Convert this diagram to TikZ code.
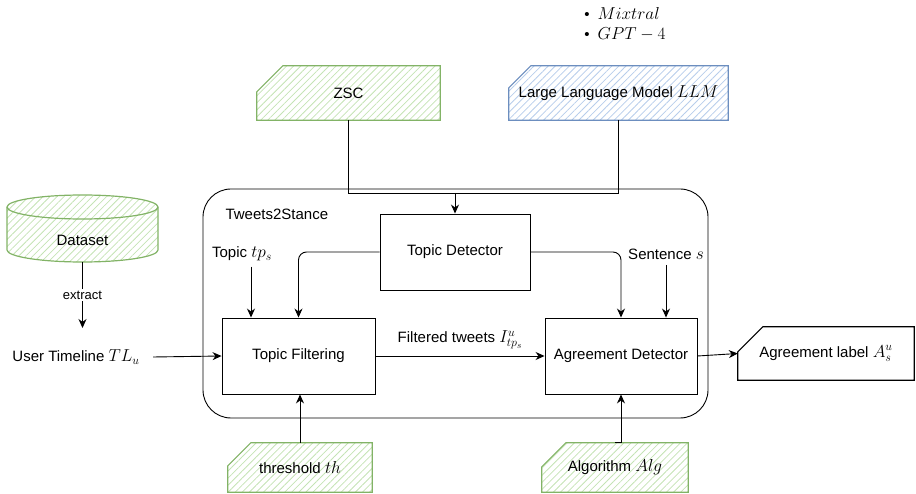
\documentclass[tikz,border=0pt]{standalone}
\usepackage{fontspec}
\setmainfont{Liberation Sans}
\usetikzlibrary{arrows.meta}
\usetikzlibrary{patterns.meta}
\usetikzlibrary{backgrounds}

\definecolor{zscline}{HTML}{82B366}
\definecolor{zschatch}{HTML}{C4E3B4}
\definecolor{llmline}{HTML}{6C8EBF}
\definecolor{llmhatch}{HTML}{B7CDEB}

\newcommand{\mth}[1]{{\fontsize{18}{20}\selectfont$#1$}}
\newcommand{\cardbg}[3]{%
\begin{scope}[on background layer]
\draw[#3] (#1.south west) -- ([yshift=-#2]#1.north west) -- ([xshift=#2]#1.north west) -- (#1.north east) -- (#1.south east) -- cycle;
\end{scope}}

\tikzset{
box/.style={draw, line width=0.9pt, minimum width=152pt, minimum height=76pt},
greencard/.style={draw=zscline, line width=1.2pt, pattern={Lines[angle=45,distance=5pt,line width=0.8pt]}, pattern color=zschatch},
bluecard/.style={draw=llmline, line width=1.2pt, pattern={Lines[angle=45,distance=5pt,line width=0.8pt]}, pattern color=llmhatch},
plaincard/.style={draw=black, fill=white, line width=1.2pt},
flow/.style={-{Stealth[length=9pt,width=8pt]}, line width=0.9pt},
}

\begin{document}
\begin{tikzpicture}[x=1pt,y=-1pt,font=\fontsize{15}{18}\selectfont]
\useasboundingbox (0,0) rectangle (916,494);

\node[align=left] (models) at (625,24) {\textbullet\hspace{8pt}\mth{Mixtral}\\[2pt]\textbullet\hspace{8pt}\mth{GPT-4}};

\node[minimum width=183pt, minimum height=54pt] (zsc) at (348.5,93) {ZSC};
\cardbg{zsc}{26pt}{greencard}
\node[minimum width=219pt, minimum height=54pt] (llm) at (618.5,93) {Large Language Model \mth{LLM}};
\cardbg{llm}{22pt}{bluecard}

\node[draw, rounded corners=28pt, line width=0.9pt, minimum width=505pt, minimum height=229pt] (t2s) at (455.5,303.5) {};
\node[anchor=west] (t2slabel) at (222,214) {Tweets2Stance};

\node[box, minimum width=150pt] (td) at (455,252) {Topic Detector};
\node[box, minimum width=153pt] (tf) at (298.5,356) {Topic Filtering};
\node[box] (ad) at (621,356) {Agreement Detector};

\node (topic) at (242,254) {Topic \mth{tp_s}};
\node (sent) at (666,254) {Sentence \mth{s}};

% dataset cylinder
\draw[greencard] (7,207) -- (7,250) arc[start angle=180,end angle=0,x radius=75.5,y radius=12] -- (158,207) arc[start angle=0,end angle=-180,x radius=75.5,y radius=12] -- cycle;
\draw[draw=zscline, line width=1.2pt] (7,207) arc[start angle=180,end angle=0,x radius=75.5,y radius=12];
\node (dataset) at (82.5,240) {Dataset};
\coordinate (dbot) at (82.5,262);
\coordinate (ext) at (82.5,328);
\node (tl) at (76,357) {User Timeline \mth{TL_u}};

\node[minimum width=176pt, minimum height=53pt] (label) at (826,353.5) {Agreement label \mth{A^u_s}};
\cardbg{label}{25pt}{plaincard}

\node[minimum width=144pt, minimum height=49pt] (th) at (300,467.5) {threshold \mth{th}};
\cardbg{th}{23pt}{greencard}
\node[minimum width=146pt, minimum height=49pt] (alg) at (615,467.5) {Algorithm \mth{Alg}};
\cardbg{alg}{24pt}{greencard}

\coordinate (merge) at (455,193);
\draw[line width=0.9pt] (zsc.south) |- (merge);
\draw[line width=0.9pt] (llm.south) |- (merge);
\draw[flow] (merge) -- (td.north);

\draw[flow, rounded corners=8pt] (td.west) -| (tf.north);
\draw[flow, rounded corners=8pt] (td.east) -| (ad.north);
\draw[flow] ([xshift=9pt,yshift=-2pt]topic.south) -- ([xshift=9pt]topic.south |- tf.north);
\draw[flow] ([yshift=-2pt]sent.south) -- (sent.south |- ad.north);

\draw[flow] (dbot) -- node[fill=white, inner sep=2pt, font=\fontsize{13}{15}\selectfont] {extract} (ext);
\draw[flow] ([xshift=10pt]tl.east) -- (tf.west);
\draw[flow] (tf.east) -- node[above=3pt] {Filtered tweets \mth{I^u_{tp_s}}} (ad.west);
\draw[flow] (ad.east) -- (label.west);

\draw[flow] (th.north) -- (th.north |- tf.south);
\draw[flow] (alg.north) -| (ad.south);

\end{tikzpicture}
\end{document}
